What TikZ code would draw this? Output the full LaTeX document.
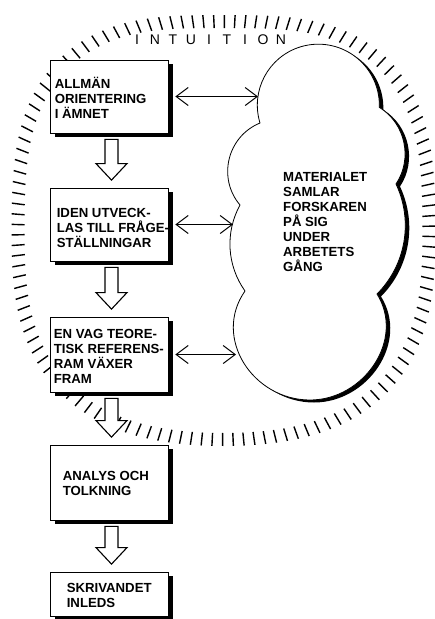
\documentclass[tikz,border=0pt]{standalone}
\usepackage{fontspec}
\setmainfont{Liberation Sans}
\usetikzlibrary{calc,shadows,arrows.meta}

% outline of the material cloud
\newcommand{\cloudpath}{(260,-123) arc[start angle=197,end angle=-2,radius=61]
    to[bend left=46] (396,-184)
    to[bend left=35, looseness=0.94] (377,-294)
    to[out=-58, in=0, looseness=1.1] (310,-400)
    to[out=180, in=235, looseness=1.15] (245,-291)
    to[bend left=32, looseness=0.93] (240,-205)
    to[bend left=54, looseness=1.07] (260,-123) -- cycle}

% hollow block arrow from one stage to the next
\newcommand{\hollowarrow}[2]{%
    \path ($(#1.south)+(2.5,-6)$) coordinate (hatop) ($(#2.north)+(2.5,7.5)$) coordinate (hatip);
    \draw[flow] ($(hatop)+(-6.5,0)$) -- ($(hatip)+(-6.5,16.5)$) -- ($(hatip)+(-15.5,16.5)$) -- (hatip)
        -- ($(hatip)+(15.5,16.5)$) -- ($(hatip)+(6.5,16.5)$) -- ($(hatop)+(6.5,0)$) -- cycle;}

\begin{document}
\begin{tikzpicture}[x=1pt, y=1pt,
    stage/.style={draw, fill=white, line width=0.8pt, minimum width=118, inner sep=0pt,
        drop shadow={shadow xshift=4.5pt, shadow yshift=-3.5pt, fill=black, opacity=1}},
    stagetext/.style={align=left, inner sep=0pt, anchor=west, font=\fontsize{13.2}{15}\selectfont\bfseries},
    flow/.style={draw, fill=white, line width=1.1pt, line join=miter},
    dbl/.style={line width=1pt, {Straight Barb[length=12pt,width=18pt]}-{Straight Barb[length=12pt,width=18pt]}},
    tick/.style={line width=1.4pt},
    letter/.style={inner sep=0pt, font=\fontsize{14}{15}\selectfont}]

    \useasboundingbox (0,0) rectangle (435,-619);

    % Intuition ring
    \coordinate (ring) at (223.5,-230.5);
    \foreach \k in {0,...,125} {
        \pgfmathsetmacro\ang{2.857143*\k+1.2}
        \pgfmathsetmacro\rin{199+3.5*sin(\ang)^2+(20+5*sin(\ang))*sin(2*\ang)^2}
        \pgfmathsetmacro\rout{\rin+13}
        \draw[tick] ($(ring)+(\ang:\rin)$) -- ($(ring)+(\ang:\rout)$);
    }
    \foreach \ch [count=\i from 0] in {I,N,T,U,I,T,I,O,N}
        \node[letter] (int\i) at (137+18*\i,-40) {\ch};

    % Cloud
    \begin{scope}[shift={(4,-2.5)}]
        \fill \cloudpath;
    \end{scope}
    \filldraw[fill=white, line width=0.8pt] \cloudpath;
    \node[stagetext] (material) at (283,-222)
        {MATERIALET\\SAMLAR\\FORSKAREN\\PÅ SIG\\UNDER\\ARBETETS\\GÅNG};

    % Stages
    \node[stage, minimum height=73] (b1) at (109,-96.5) {};
    \node[stage, minimum height=73] (b2) at (109,-224.5) {};
    \node[stage, minimum height=75] (b3) at (109,-354.5) {};
    \node[stage, minimum height=75] (b4) at (109,-482.5) {};
    \node[stage, minimum height=44] (b5) at (109,-594) {};

    \node[stagetext] (t1) at ($(b1.west)+(5,-1)$) {ALLMÄN\\ORIENTERING\\I ÄMNET};
    \node[stagetext] (t2) at ($(b2.west)+(7,-3)$) {IDEN UTVECK-\\LAS TILL FRÅGE-\\STÄLLNINGAR};
    \node[stagetext] (t3) at ($(b3.west)+(4,-2)$) {EN VAG TEORE-\\TISK REFERENS-\\RAM VÄXER\\FRAM};
    \node[stagetext] (t4) at ($(b4.west)+(13,-1)$) {ANALYS OCH\\TOLKNING};
    \node[stagetext] (t5) at ($(b5.west)+(17,-1.5)$) {SKRIVANDET\\INLEDS};

    % Flow between stages
    \hollowarrow{b1}{b2}
    \hollowarrow{b2}{b3}
    \hollowarrow{b3}{b4}
    \hollowarrow{b4}{b5}

    % Exchange with the material
    \coordinate (cl1) at (258,-96.5);
    \coordinate (cl2) at (233,-224.5);
    \coordinate (cl3) at (236,-354.5);
    \draw[dbl] ([xshift=7pt]b1.east) -- (b1.east -| cl1);
    \draw[dbl] ([xshift=7pt]b2.east) -- (b2.east -| cl2);
    \draw[dbl] ([xshift=7pt]b3.east) -- (b3.east -| cl3);

\end{tikzpicture}
\end{document}
